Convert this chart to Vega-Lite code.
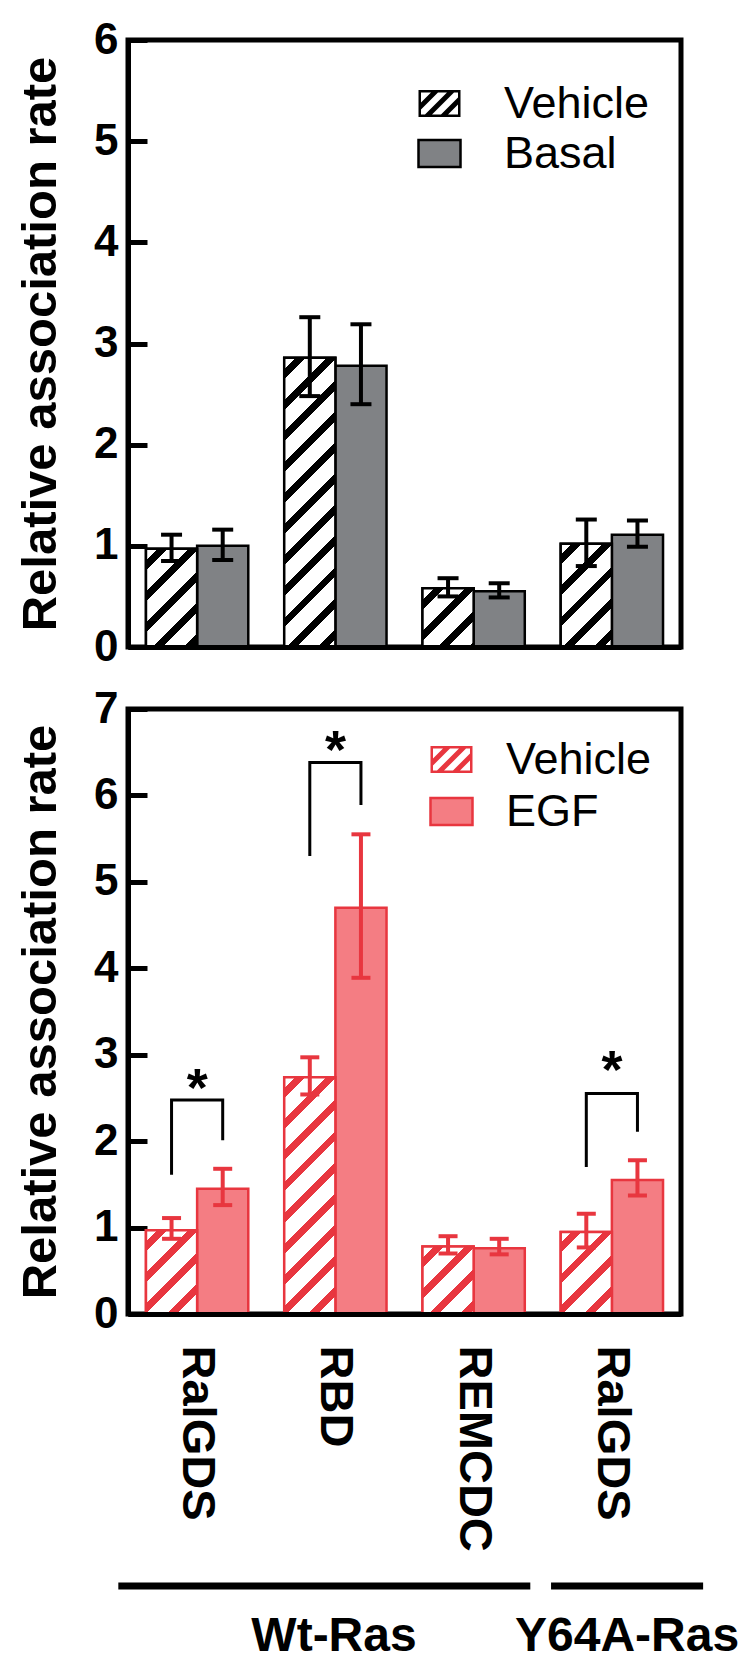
{
 "$schema": "https://vega.github.io/schema/vega-lite/v6.json",
 "padding": {"left": 14, "top": 15, "right": 0, "bottom": 0},
 "background": "white",
 "bounds": "flush",
 "spacing": 62,
 "config": {
  "font": "Liberation Sans",
  "view": {"stroke": "black", "strokeWidth": 5},
  "axisY": {"domain": true, "domainColor": "black", "domainWidth": 5, "ticks": true, "tickColor": "black", "tickWidth": 5, "tickSize": -19, "labelFont": "Liberation Sans", "labelFontWeight": "bold", "labelFontSize": 44, "labelColor": "black", "labelPadding": 29, "titleFont": "Liberation Sans", "titleFontWeight": "bold", "titleFontSize": 49, "titleColor": "black", "titlePadding": 28, "grid": false, "zindex": 1}
 },
 "datasets": {
  "top": [
   {"cat": "1:RalGDS", "trt": "Vehicle", "mean": 0.97, "lo": 0.85, "hi": 1.11},
   {"cat": "1:RalGDS", "trt": "Basal", "mean": 1.0, "lo": 0.86, "hi": 1.16},
   {"cat": "2:RBD", "trt": "Vehicle", "mean": 2.86, "lo": 2.48, "hi": 3.26},
   {"cat": "2:RBD", "trt": "Basal", "mean": 2.78, "lo": 2.4, "hi": 3.19},
   {"cat": "3:REMCDC", "trt": "Vehicle", "mean": 0.58, "lo": 0.5, "hi": 0.68},
   {"cat": "3:REMCDC", "trt": "Basal", "mean": 0.55, "lo": 0.49, "hi": 0.63},
   {"cat": "4:RalGDS", "trt": "Vehicle", "mean": 1.02, "lo": 0.8, "hi": 1.26},
   {"cat": "4:RalGDS", "trt": "Basal", "mean": 1.11, "lo": 0.99, "hi": 1.25}
  ],
  "bot": [
   {"cat": "1:RalGDS", "trt": "Vehicle", "mean": 0.97, "lo": 0.87, "hi": 1.11},
   {"cat": "1:RalGDS", "trt": "EGF", "mean": 1.45, "lo": 1.26, "hi": 1.68},
   {"cat": "2:RBD", "trt": "Vehicle", "mean": 2.74, "lo": 2.54, "hi": 2.97},
   {"cat": "2:RBD", "trt": "EGF", "mean": 4.7, "lo": 3.89, "hi": 5.55},
   {"cat": "3:REMCDC", "trt": "Vehicle", "mean": 0.78, "lo": 0.7, "hi": 0.9},
   {"cat": "3:REMCDC", "trt": "EGF", "mean": 0.76, "lo": 0.69, "hi": 0.87},
   {"cat": "4:RalGDS", "trt": "Vehicle", "mean": 0.95, "lo": 0.77, "hi": 1.16},
   {"cat": "4:RalGDS", "trt": "EGF", "mean": 1.55, "lo": 1.37, "hi": 1.78}
  ],
  "brk": [
   {"b": 1, "o": 1, "cat": "1:RalGDS", "trt": "Vehicle", "v": 1.61},
   {"b": 1, "o": 2, "cat": "1:RalGDS", "trt": "Vehicle", "v": 2.475},
   {"b": 1, "o": 3, "cat": "1:RalGDS", "trt": "EGF", "v": 2.475},
   {"b": 1, "o": 4, "cat": "1:RalGDS", "trt": "EGF", "v": 2.01},
   {"b": 2, "o": 1, "cat": "2:RBD", "trt": "Vehicle", "v": 5.3},
   {"b": 2, "o": 2, "cat": "2:RBD", "trt": "Vehicle", "v": 6.38},
   {"b": 2, "o": 3, "cat": "2:RBD", "trt": "EGF", "v": 6.38},
   {"b": 2, "o": 4, "cat": "2:RBD", "trt": "EGF", "v": 5.89},
   {"b": 3, "o": 1, "cat": "4:RalGDS", "trt": "Vehicle", "v": 1.7},
   {"b": 3, "o": 2, "cat": "4:RalGDS", "trt": "Vehicle", "v": 2.55},
   {"b": 3, "o": 3, "cat": "4:RalGDS", "trt": "EGF", "v": 2.55},
   {"b": 3, "o": 4, "cat": "4:RalGDS", "trt": "EGF", "v": 2.11}
  ],
  "star": [
   {"cat": "1:RalGDS", "v": 2.69},
   {"cat": "2:RBD", "v": 6.59},
   {"cat": "4:RalGDS", "v": 2.89}
  ],
  "grp": [
   {"kind": "line", "x": -0.07, "x2": 2.91, "y": 0.276},
   {"kind": "line", "x": 3.06, "x2": 4.16, "y": 0.276},
   {"kind": "label", "x": 1.49, "y": 0.1, "label": "Wt-Ras"},
   {"kind": "label", "x": 3.61, "y": 0.1, "label": "Y64A-Ras"}
  ]
 },
 "resolve": {"scale": {"x": "independent", "y": "independent", "xOffset": "independent", "fill": "independent", "shape": "independent"}, "legend": {"fill": "independent", "shape": "independent"}},
 "vconcat": [
  {
   "width": 553, "height": 607,
   "data": {"name": "top"},
   "encoding": {
    "x": {"field": "cat", "type": "nominal", "sort": null, "scale": {"domain": ["1:RalGDS", "2:RBD", "3:REMCDC", "4:RalGDS"], "paddingInner": 0.26, "paddingOuter": 0.13}, "axis": {"labels": false, "ticks": false, "domain": true, "domainColor": "black", "domainWidth": 5, "title": null, "zindex": 1}},
    "xOffset": {"field": "trt", "type": "nominal", "sort": ["Vehicle", "Basal"], "scale": {"domain": ["Vehicle", "Basal"], "paddingInner": 0, "paddingOuter": 0}}
   },
   "layer": [
    {
     "mark": {"type": "bar", "stroke": "black", "strokeWidth": 2.5},
     "encoding": {
      "y": {"field": "mean", "type": "quantitative", "scale": {"domain": [0, 6], "nice": false}, "axis": {"values": [0, 1, 2, 3, 4, 5, 6], "format": "d", "title": "Relative association rate"}},
      "fill": {"field": "trt", "type": "nominal", "scale": {"domain": ["Vehicle", "Basal"], "range": ["#ffffff", "#808285"]},
       "legend": {"values": ["Basal"], "orient": "none", "legendX": 289, "legendY": 91, "title": null, "padding": 0, "symbolType": "M-1,-0.6429H1V0.6429H-1Z", "symbolSize": 1764, "symbolStrokeColor": "black", "symbolStrokeWidth": 2.5, "symbolOpacity": 1, "labelFont": "Liberation Sans", "labelFontSize": 45, "labelColor": "black", "labelOffset": 42}}
     }
    },
    {
     "transform": [{"filter": "datum.trt === 'Vehicle'"}],
     "mark": {"type": "point", "filled": true, "color": "#000000", "opacity": 0, "size": 0},
     "encoding": {
      "y": {"field": "mean", "type": "quantitative", "scale": {"domain": [0, 6], "nice": false}, "axis": {"values": [0, 1, 2, 3, 4, 5, 6], "format": "d", "title": "Relative association rate"}},
      "shape": {"field": "trt", "type": "nominal", "scale": {"domain": ["Vehicle"], "range": ["M-1,-0.6429H1V0.6429H-1Z M-0.881,-0.5238L-0.881,-0.0476L-0.4048,-0.5238Z M-0.0714,-0.5238L-0.881,0.2857L-0.881,0.5238L-0.6905,0.5238L0.3571,-0.5238Z M0.6905,-0.5238L-0.3571,0.5238L0.0714,0.5238L0.881,-0.2857L0.881,-0.5238Z M0.881,0.0476L0.4048,0.5238L0.881,0.5238Z"]},
       "legend": {"orient": "none", "legendX": 289, "legendY": 41, "title": null, "padding": 0, "symbolSize": 1764, "symbolFillColor": "#000000", "symbolStrokeColor": "transparent", "symbolStrokeWidth": 0, "symbolOpacity": 1, "labelFont": "Liberation Sans", "labelFontSize": 45, "labelColor": "black", "labelOffset": 42}}
     }
    },
    {
     "transform": [{"filter": "datum.trt === 'Vehicle'"}],
     "mark": {"type": "bar", "stroke": "black", "strokeWidth": 2.5},
     "encoding": {
      "y": {"field": "mean", "type": "quantitative", "scale": {"domain": [0, 6], "nice": false}, "axis": {"values": [0, 1, 2, 3, 4, 5, 6], "format": "d", "title": "Relative association rate"}},
      "fill": {"condition": [
        {"test": "datum.cat === '1:RalGDS'", "value": {"gradient": "linear", "x1": 0, "y1": 0, "x2": 0.6235, "y2": 1.1963, "stops": [
          {"offset": 0.0758, "color": "#fff"}, {"offset": 0.0758, "color": "#000"}, {"offset": 0.1421, "color": "#000"}, {"offset": 0.1421, "color": "#fff"},
          {"offset": 0.2842, "color": "#fff"}, {"offset": 0.2842, "color": "#000"}, {"offset": 0.3505, "color": "#000"}, {"offset": 0.3505, "color": "#fff"},
          {"offset": 0.4926, "color": "#fff"}, {"offset": 0.4926, "color": "#000"}, {"offset": 0.5589, "color": "#000"}, {"offset": 0.5589, "color": "#fff"},
          {"offset": 0.701, "color": "#fff"}, {"offset": 0.701, "color": "#000"}, {"offset": 0.7673, "color": "#000"}, {"offset": 0.7673, "color": "#fff"},
          {"offset": 0.9094, "color": "#fff"}, {"offset": 0.9094, "color": "#000"}, {"offset": 0.9757, "color": "#000"}, {"offset": 0.9757, "color": "#fff"}]}},
        {"test": "datum.cat === '2:RBD'", "value": {"gradient": "linear", "x1": 0, "y1": 0, "x2": 0.2017, "y2": 1.1411, "stops": [
          {"offset": 0.0332, "color": "#fff"}, {"offset": 0.0332, "color": "#000"}, {"offset": 0.0623, "color": "#000"}, {"offset": 0.0623, "color": "#fff"},
          {"offset": 0.1246, "color": "#fff"}, {"offset": 0.1246, "color": "#000"}, {"offset": 0.1537, "color": "#000"}, {"offset": 0.1537, "color": "#fff"},
          {"offset": 0.216, "color": "#fff"}, {"offset": 0.216, "color": "#000"}, {"offset": 0.245, "color": "#000"}, {"offset": 0.245, "color": "#fff"},
          {"offset": 0.3073, "color": "#fff"}, {"offset": 0.3073, "color": "#000"}, {"offset": 0.3364, "color": "#000"}, {"offset": 0.3364, "color": "#fff"},
          {"offset": 0.3987, "color": "#fff"}, {"offset": 0.3987, "color": "#000"}, {"offset": 0.4278, "color": "#000"}, {"offset": 0.4278, "color": "#fff"},
          {"offset": 0.4901, "color": "#fff"}, {"offset": 0.4901, "color": "#000"}, {"offset": 0.5192, "color": "#000"}, {"offset": 0.5192, "color": "#fff"},
          {"offset": 0.5815, "color": "#fff"}, {"offset": 0.5815, "color": "#000"}, {"offset": 0.6105, "color": "#000"}, {"offset": 0.6105, "color": "#fff"},
          {"offset": 0.6728, "color": "#fff"}, {"offset": 0.6728, "color": "#000"}, {"offset": 0.7019, "color": "#000"}, {"offset": 0.7019, "color": "#fff"},
          {"offset": 0.7642, "color": "#fff"}, {"offset": 0.7642, "color": "#000"}, {"offset": 0.7933, "color": "#000"}, {"offset": 0.7933, "color": "#fff"},
          {"offset": 0.8556, "color": "#fff"}, {"offset": 0.8556, "color": "#000"}, {"offset": 0.8847, "color": "#000"}, {"offset": 0.8847, "color": "#fff"},
          {"offset": 0.947, "color": "#fff"}, {"offset": 0.947, "color": "#000"}, {"offset": 0.976, "color": "#000"}, {"offset": 0.976, "color": "#fff"}]}},
        {"test": "datum.cat === '3:REMCDC'", "value": {"gradient": "linear", "x1": 0, "y1": 0, "x2": 0.9271, "y2": 1.0636, "stops": [
          {"offset": 0.103, "color": "#fff"}, {"offset": 0.103, "color": "#000"}, {"offset": 0.1932, "color": "#000"}, {"offset": 0.1932, "color": "#fff"},
          {"offset": 0.3863, "color": "#fff"}, {"offset": 0.3863, "color": "#000"}, {"offset": 0.4764, "color": "#000"}, {"offset": 0.4764, "color": "#fff"},
          {"offset": 0.6696, "color": "#fff"}, {"offset": 0.6696, "color": "#000"}, {"offset": 0.7597, "color": "#000"}, {"offset": 0.7597, "color": "#fff"},
          {"offset": 0.9529, "color": "#fff"}, {"offset": 0.9529, "color": "#000"}, {"offset": 1, "color": "#000"}]}},
        {"test": "datum.cat === '4:RalGDS'", "value": {"gradient": "linear", "x1": 0, "y1": 0, "x2": 0.5952, "y2": 1.2007, "stops": [
          {"offset": 0.0733, "color": "#fff"}, {"offset": 0.0733, "color": "#000"}, {"offset": 0.1374, "color": "#000"}, {"offset": 0.1374, "color": "#fff"},
          {"offset": 0.2749, "color": "#fff"}, {"offset": 0.2749, "color": "#000"}, {"offset": 0.339, "color": "#000"}, {"offset": 0.339, "color": "#fff"},
          {"offset": 0.4765, "color": "#fff"}, {"offset": 0.4765, "color": "#000"}, {"offset": 0.5406, "color": "#000"}, {"offset": 0.5406, "color": "#fff"},
          {"offset": 0.678, "color": "#fff"}, {"offset": 0.678, "color": "#000"}, {"offset": 0.7422, "color": "#000"}, {"offset": 0.7422, "color": "#fff"},
          {"offset": 0.8796, "color": "#fff"}, {"offset": 0.8796, "color": "#000"}, {"offset": 0.9437, "color": "#000"}, {"offset": 0.9437, "color": "#fff"}]}}
       ], "value": "#fff"}
     }
    },
    {
     "mark": {"type": "rule", "color": "black", "strokeWidth": 4},
     "encoding": {
      "y": {"field": "lo", "type": "quantitative", "scale": {"domain": [0, 6], "nice": false}, "axis": {"values": [0, 1, 2, 3, 4, 5, 6], "format": "d", "title": "Relative association rate"}},
      "y2": {"field": "hi"}
     }
    },
    {
     "mark": {"type": "tick", "color": "black", "thickness": 4, "size": 21, "opacity": 1},
     "encoding": {
      "y": {"field": "lo", "type": "quantitative", "scale": {"domain": [0, 6], "nice": false}, "axis": {"values": [0, 1, 2, 3, 4, 5, 6], "format": "d", "title": "Relative association rate"}}
     }
    },
    {
     "mark": {"type": "tick", "color": "black", "thickness": 4, "size": 21, "opacity": 1},
     "encoding": {
      "y": {"field": "hi", "type": "quantitative", "scale": {"domain": [0, 6], "nice": false}, "axis": {"values": [0, 1, 2, 3, 4, 5, 6], "format": "d", "title": "Relative association rate"}}
     }
    }
   ]
  },
  {
   "width": 553, "height": 605,
   "encoding": {
    "x": {"field": "cat", "type": "nominal", "sort": null, "scale": {"domain": ["1:RalGDS", "2:RBD", "3:REMCDC", "4:RalGDS"], "paddingInner": 0.26, "paddingOuter": 0.13}, "axis": {"labels": true, "ticks": false, "domain": true, "domainColor": "black", "domainWidth": 5, "title": null, "zindex": 1, "labelAngle": 90, "labelFont": "Liberation Sans", "labelFontWeight": "bold", "labelFontSize": 47, "labelColor": "black", "labelPadding": 31, "labelLimit": 400, "labelExpr": "substring(datum.label, 2)"}}
   },
   "layer": [
    {
     "data": {"name": "bot"},
     "mark": {"type": "bar", "stroke": "#e8363f", "strokeWidth": 2.5},
     "encoding": {
      "xOffset": {"field": "trt", "type": "nominal", "sort": ["Vehicle", "EGF"], "scale": {"domain": ["Vehicle", "EGF"], "paddingInner": 0, "paddingOuter": 0}},
      "y": {"field": "mean", "type": "quantitative", "scale": {"domain": [0, 7], "nice": false}, "axis": {"values": [0, 1, 2, 3, 4, 5, 6, 7], "format": "d", "title": "Relative association rate"}},
      "fill": {"field": "trt", "type": "nominal", "scale": {"domain": ["Vehicle", "EGF"], "range": ["#ffffff", "#f47d83"]},
       "legend": {"values": ["EGF"], "orient": "none", "legendX": 301, "legendY": 80, "title": null, "padding": 0, "symbolType": "M-1,-0.6429H1V0.6429H-1Z", "symbolSize": 1764, "symbolStrokeColor": "#e8363f", "symbolStrokeWidth": 2.5, "symbolOpacity": 1, "labelFont": "Liberation Sans", "labelFontSize": 45, "labelColor": "black", "labelOffset": 32}}
     }
    },
    {
     "data": {"name": "bot"},
     "transform": [{"filter": "datum.trt === 'Vehicle'"}],
     "mark": {"type": "point", "filled": true, "color": "#e8363f", "opacity": 0, "size": 0},
     "encoding": {
      "xOffset": {"field": "trt", "type": "nominal", "sort": ["Vehicle", "EGF"], "scale": {"domain": ["Vehicle", "EGF"], "paddingInner": 0, "paddingOuter": 0}},
      "y": {"field": "mean", "type": "quantitative", "scale": {"domain": [0, 7], "nice": false}, "axis": {"values": [0, 1, 2, 3, 4, 5, 6, 7], "format": "d", "title": "Relative association rate"}},
      "shape": {"field": "trt", "type": "nominal", "scale": {"domain": ["Vehicle"], "range": ["M-1,-0.6429H1V0.6429H-1Z M-0.881,-0.5238L-0.881,-0.0476L-0.4048,-0.5238Z M-0.0714,-0.5238L-0.881,0.2857L-0.881,0.5238L-0.6905,0.5238L0.3571,-0.5238Z M0.6905,-0.5238L-0.3571,0.5238L0.0714,0.5238L0.881,-0.2857L0.881,-0.5238Z M0.881,0.0476L0.4048,0.5238L0.881,0.5238Z"]},
       "legend": {"orient": "none", "legendX": 301, "legendY": 28, "title": null, "padding": 0, "symbolSize": 1764, "symbolFillColor": "#e8363f", "symbolStrokeColor": "transparent", "symbolStrokeWidth": 0, "symbolOpacity": 1, "labelFont": "Liberation Sans", "labelFontSize": 45, "labelColor": "black", "labelOffset": 32}}
     }
    },
    {
     "data": {"name": "bot"},
     "transform": [{"filter": "datum.trt === 'Vehicle'"}],
     "mark": {"type": "bar", "stroke": "#e8363f", "strokeWidth": 2.5},
     "encoding": {
      "xOffset": {"field": "trt", "type": "nominal", "sort": ["Vehicle", "EGF"], "scale": {"domain": ["Vehicle", "EGF"], "paddingInner": 0, "paddingOuter": 0}},
      "y": {"field": "mean", "type": "quantitative", "scale": {"domain": [0, 7], "nice": false}, "axis": {"values": [0, 1, 2, 3, 4, 5, 6, 7], "format": "d", "title": "Relative association rate"}},
      "fill": {"condition": [
        {"test": "datum.cat === '1:RalGDS'", "value": {"gradient": "linear", "x1": 0, "y1": 0, "x2": 0.7159, "y2": 1.1734, "stops": [
          {"offset": 0.0838, "color": "#fff"}, {"offset": 0.0838, "color": "#e8363f"}, {"offset": 0.1572, "color": "#e8363f"}, {"offset": 0.1572, "color": "#fff"},
          {"offset": 0.3143, "color": "#fff"}, {"offset": 0.3143, "color": "#e8363f"}, {"offset": 0.3876, "color": "#e8363f"}, {"offset": 0.3876, "color": "#fff"},
          {"offset": 0.5448, "color": "#fff"}, {"offset": 0.5448, "color": "#e8363f"}, {"offset": 0.6181, "color": "#e8363f"}, {"offset": 0.6181, "color": "#fff"},
          {"offset": 0.7753, "color": "#fff"}, {"offset": 0.7753, "color": "#e8363f"}, {"offset": 0.8486, "color": "#e8363f"}, {"offset": 0.8486, "color": "#fff"}]}},
        {"test": "datum.cat === '2:RBD'", "value": {"gradient": "linear", "x1": 0, "y1": 0, "x2": 0.2509, "y2": 1.1618, "stops": [
          {"offset": 0.0393, "color": "#fff"}, {"offset": 0.0393, "color": "#e8363f"}, {"offset": 0.0737, "color": "#e8363f"}, {"offset": 0.0737, "color": "#fff"},
          {"offset": 0.1473, "color": "#fff"}, {"offset": 0.1473, "color": "#e8363f"}, {"offset": 0.1817, "color": "#e8363f"}, {"offset": 0.1817, "color": "#fff"},
          {"offset": 0.2554, "color": "#fff"}, {"offset": 0.2554, "color": "#e8363f"}, {"offset": 0.2897, "color": "#e8363f"}, {"offset": 0.2897, "color": "#fff"},
          {"offset": 0.3634, "color": "#fff"}, {"offset": 0.3634, "color": "#e8363f"}, {"offset": 0.3978, "color": "#e8363f"}, {"offset": 0.3978, "color": "#fff"},
          {"offset": 0.4714, "color": "#fff"}, {"offset": 0.4714, "color": "#e8363f"}, {"offset": 0.5058, "color": "#e8363f"}, {"offset": 0.5058, "color": "#fff"},
          {"offset": 0.5795, "color": "#fff"}, {"offset": 0.5795, "color": "#e8363f"}, {"offset": 0.6139, "color": "#e8363f"}, {"offset": 0.6139, "color": "#fff"},
          {"offset": 0.6875, "color": "#fff"}, {"offset": 0.6875, "color": "#e8363f"}, {"offset": 0.7219, "color": "#e8363f"}, {"offset": 0.7219, "color": "#fff"},
          {"offset": 0.7956, "color": "#fff"}, {"offset": 0.7956, "color": "#e8363f"}, {"offset": 0.8299, "color": "#e8363f"}, {"offset": 0.8299, "color": "#fff"},
          {"offset": 0.9036, "color": "#fff"}, {"offset": 0.9036, "color": "#e8363f"}, {"offset": 0.938, "color": "#e8363f"}, {"offset": 0.938, "color": "#fff"}]}},
        {"test": "datum.cat === '3:REMCDC'", "value": {"gradient": "linear", "x1": 0, "y1": 0, "x2": 0.8468, "y2": 1.1162, "stops": [
          {"offset": 0.0954, "color": "#fff"}, {"offset": 0.0954, "color": "#e8363f"}, {"offset": 0.1789, "color": "#e8363f"}, {"offset": 0.1789, "color": "#fff"},
          {"offset": 0.3578, "color": "#fff"}, {"offset": 0.3578, "color": "#e8363f"}, {"offset": 0.4413, "color": "#e8363f"}, {"offset": 0.4413, "color": "#fff"},
          {"offset": 0.6202, "color": "#fff"}, {"offset": 0.6202, "color": "#e8363f"}, {"offset": 0.7037, "color": "#e8363f"}, {"offset": 0.7037, "color": "#fff"},
          {"offset": 0.8826, "color": "#fff"}, {"offset": 0.8826, "color": "#e8363f"}, {"offset": 0.9661, "color": "#e8363f"}, {"offset": 0.9661, "color": "#fff"}]}},
        {"test": "datum.cat === '4:RalGDS'", "value": {"gradient": "linear", "x1": 0, "y1": 0, "x2": 0.7284, "y2": 1.1692, "stops": [
          {"offset": 0.0849, "color": "#fff"}, {"offset": 0.0849, "color": "#e8363f"}, {"offset": 0.1592, "color": "#e8363f"}, {"offset": 0.1592, "color": "#fff"},
          {"offset": 0.3184, "color": "#fff"}, {"offset": 0.3184, "color": "#e8363f"}, {"offset": 0.3927, "color": "#e8363f"}, {"offset": 0.3927, "color": "#fff"},
          {"offset": 0.5518, "color": "#fff"}, {"offset": 0.5518, "color": "#e8363f"}, {"offset": 0.6261, "color": "#e8363f"}, {"offset": 0.6261, "color": "#fff"},
          {"offset": 0.7853, "color": "#fff"}, {"offset": 0.7853, "color": "#e8363f"}, {"offset": 0.8596, "color": "#e8363f"}, {"offset": 0.8596, "color": "#fff"}]}}
       ], "value": "#fff"}
     }
    },
    {
     "data": {"name": "bot"},
     "mark": {"type": "rule", "color": "#e8363f", "strokeWidth": 4},
     "encoding": {
      "xOffset": {"field": "trt", "type": "nominal", "sort": ["Vehicle", "EGF"], "scale": {"domain": ["Vehicle", "EGF"], "paddingInner": 0, "paddingOuter": 0}},
      "y": {"field": "lo", "type": "quantitative", "scale": {"domain": [0, 7], "nice": false}, "axis": {"values": [0, 1, 2, 3, 4, 5, 6, 7], "format": "d", "title": "Relative association rate"}},
      "y2": {"field": "hi"}
     }
    },
    {
     "data": {"name": "bot"},
     "mark": {"type": "tick", "color": "#e8363f", "thickness": 4, "size": 19, "opacity": 1},
     "encoding": {
      "xOffset": {"field": "trt", "type": "nominal", "sort": ["Vehicle", "EGF"], "scale": {"domain": ["Vehicle", "EGF"], "paddingInner": 0, "paddingOuter": 0}},
      "y": {"field": "lo", "type": "quantitative", "scale": {"domain": [0, 7], "nice": false}, "axis": {"values": [0, 1, 2, 3, 4, 5, 6, 7], "format": "d", "title": "Relative association rate"}}
     }
    },
    {
     "data": {"name": "bot"},
     "mark": {"type": "tick", "color": "#e8363f", "thickness": 4, "size": 19, "opacity": 1},
     "encoding": {
      "xOffset": {"field": "trt", "type": "nominal", "sort": ["Vehicle", "EGF"], "scale": {"domain": ["Vehicle", "EGF"], "paddingInner": 0, "paddingOuter": 0}},
      "y": {"field": "hi", "type": "quantitative", "scale": {"domain": [0, 7], "nice": false}, "axis": {"values": [0, 1, 2, 3, 4, 5, 6, 7], "format": "d", "title": "Relative association rate"}}
     }
    },
    {
     "data": {"name": "brk"},
     "mark": {"type": "line", "color": "black", "strokeWidth": 3, "strokeCap": "butt", "strokeJoin": "miter"},
     "encoding": {
      "xOffset": {"field": "trt", "type": "nominal", "sort": ["Vehicle", "EGF"], "scale": {"domain": ["Vehicle", "EGF"], "paddingInner": 0, "paddingOuter": 0}},
      "y": {"field": "v", "type": "quantitative", "scale": {"domain": [0, 7], "nice": false}, "axis": {"values": [0, 1, 2, 3, 4, 5, 6, 7], "format": "d", "title": "Relative association rate"}},
      "order": {"field": "o", "type": "quantitative"},
      "detail": {"field": "b", "type": "nominal"}
     }
    },
    {
     "data": {"name": "star"},
     "mark": {"type": "text", "text": "*", "font": "Liberation Sans", "fontWeight": "bold", "fontSize": 54, "color": "black", "baseline": "middle", "dy": 8},
     "encoding": {
      "y": {"field": "v", "type": "quantitative", "scale": {"domain": [0, 7], "nice": false}, "axis": {"values": [0, 1, 2, 3, 4, 5, 6, 7], "format": "d", "title": "Relative association rate"}}
     }
    }
   ]
  },
  {
   "width": 553, "height": 290,
   "view": {"stroke": null},
   "data": {"name": "grp"},
   "layer": [
    {
     "transform": [{"filter": "datum.kind === 'line'"}],
     "mark": {"type": "rule", "color": "black", "strokeWidth": 7, "strokeCap": "butt"},
     "encoding": {
      "x": {"field": "x", "type": "quantitative", "scale": {"domain": [0, 4], "nice": false, "zero": false}, "axis": null},
      "x2": {"field": "x2"},
      "y": {"field": "y", "type": "quantitative", "scale": {"domain": [0, 1], "nice": false}, "axis": null}
     }
    },
    {
     "transform": [{"filter": "datum.kind === 'label'"}],
     "mark": {"type": "text", "font": "Liberation Sans", "fontWeight": "bold", "fontSize": 48, "color": "black", "baseline": "middle", "align": "center"},
     "encoding": {
      "x": {"field": "x", "type": "quantitative", "scale": {"domain": [0, 4], "nice": false, "zero": false}, "axis": null},
      "y": {"field": "y", "type": "quantitative", "scale": {"domain": [0, 1], "nice": false}, "axis": null},
      "text": {"field": "label"}
     }
    }
   ]
  }
 ]
}
